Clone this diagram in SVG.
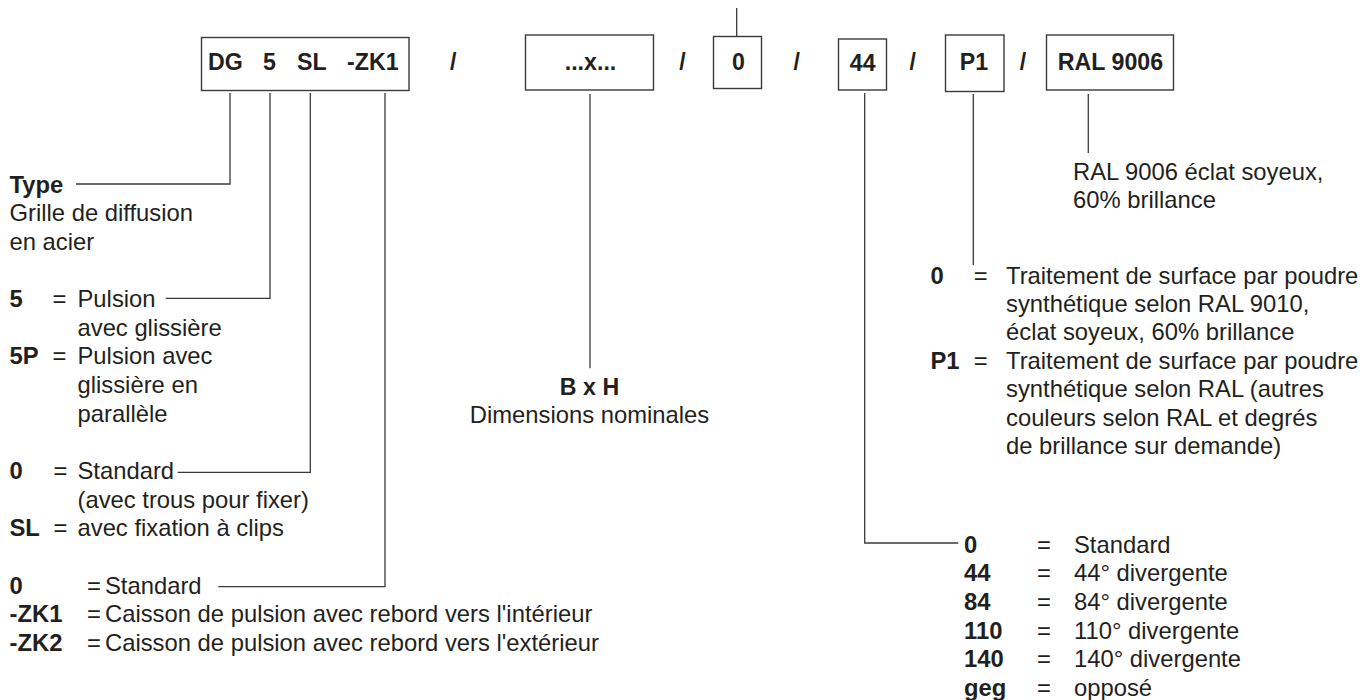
<svg xmlns="http://www.w3.org/2000/svg" width="1363" height="700" viewBox="0 0 1363 700">
<style>
text{font-family:"Liberation Sans",Arial,Helvetica,sans-serif;fill:#231f20;font-size:23.8px}
.b{font-weight:bold}
.bx{font-weight:bold;font-size:23.2px}
.m{text-anchor:middle}
rect{fill:#fff;stroke:#3a3a3a;stroke-width:1.4}
#connectors path{fill:none;stroke:#3a3a3a;stroke-width:1.3}
</style>
<rect x="0" y="0" width="1363" height="700" style="fill:#fff;stroke:none"/>

<g id="connectors">
<path d="M736.7 8 V36.5"/>
<path d="M230 93 V184 H76"/>
<path d="M270 93 V298.3 H165.7"/>
<path d="M310.3 93 V472.3 H177.7"/>
<path d="M385 93 V586.7 H218.3"/>
<path d="M590 94 V368.3"/>
<path d="M864.7 93 V543 H958.3"/>
<path d="M973.3 94 V265"/>
<path d="M1088.3 94 V153"/>
</g>

<g id="code">
<rect x="201.5" y="37.5" width="207.5" height="53"/>
<text class="bx" x="208" y="70">DG</text>
<text class="bx" x="263" y="70">5</text>
<text class="bx" x="297" y="70">SL</text>
<text class="bx" x="347" y="70">-ZK1</text>
</g>

<g id="separators">
<text class="bx m" x="453.3" y="70">/</text>
<text class="bx m" x="682.5" y="70">/</text>
<text class="bx m" x="796.7" y="70">/</text>
<text class="bx m" x="912.7" y="70">/</text>
<text class="bx m" x="1023" y="70">/</text>
</g>

<g id="dimensions">
<rect x="525.5" y="35" width="128" height="55"/>
<text class="bx m" x="590.5" y="70">...x...</text>
</g>

<g id="box-0">
<rect x="713.5" y="36.5" width="48" height="52"/>
<text class="bx m" x="738.5" y="70">0</text>
</g>

<g id="box-44">
<rect x="838.5" y="39" width="48" height="51"/>
<text class="bx m" x="862.7" y="71">44</text>
</g>

<g id="box-p1">
<rect x="945.5" y="35" width="58.5" height="56.5"/>
<text class="bx m" x="974" y="70">P1</text>
</g>

<g id="box-ral">
<rect x="1046.5" y="35" width="127" height="55"/>
<text class="bx m" x="1110.5" y="70">RAL 9006</text>
</g>

<g id="desc-type">
<text class="b" x="9.5" y="192.5">Type</text>
<text x="9.5" y="221.1">Grille de diffusion</text>
<text x="9.5" y="249.8">en acier</text>
</g>

<g id="desc-5">
<text class="b" x="9.5" y="307.1">5</text>
<text x="52.5" y="307.1">=</text>
<text x="77.5" y="307.1">Pulsion</text>
<text x="77.5" y="335.7">avec glissière</text>
<text class="b" x="9.5" y="364.3">5P</text>
<text x="52.5" y="364.3">=</text>
<text x="77.5" y="364.3">Pulsion avec</text>
<text x="77.5" y="393">glissière en</text>
<text x="77.5" y="421.6">parallèle</text>
</g>

<g id="desc-sl">
<text class="b" x="9.5" y="478.9">0</text>
<text x="53.5" y="478.9">=</text>
<text x="77.5" y="478.9">Standard</text>
<text x="77.5" y="507.5">(avec trous pour fixer)</text>
<text class="b" x="9.5" y="536.2">SL</text>
<text x="53.5" y="536.2">=</text>
<text x="77.5" y="536.2">avec fixation à clips</text>
</g>

<g id="desc-zk">
<text class="b" x="9.5" y="593.5">0</text>
<text x="87" y="593.5">=</text>
<text x="105" y="593.5">Standard</text>
<text class="b" x="9.5" y="622.1">-ZK1</text>
<text x="87" y="622.1">=</text>
<text x="105" y="622.1">Caisson de pulsion avec rebord vers l'intérieur</text>
<text class="b" x="9.5" y="650.7">-ZK2</text>
<text x="87" y="650.7">=</text>
<text x="105" y="650.7">Caisson de pulsion avec rebord vers l'extérieur</text>
</g>

<g id="desc-dimensions">
<text class="bx m" x="589.5" y="394.8">B x H</text>
<text class="m" x="589.5" y="423.4">Dimensions nominales</text>
</g>

<g id="desc-ral">
<text x="1073" y="179.5">RAL 9006 éclat soyeux,</text>
<text x="1073" y="208">60% brillance</text>
</g>

<g id="desc-p1">
<text class="b" x="930.5" y="283.5">0</text>
<text x="973.8" y="283.5">=</text>
<text x="1006" y="283.5">Traitement de surface par poudre</text>
<text x="1006" y="311.9">synthétique selon RAL 9010,</text>
<text x="1006" y="340.3">éclat soyeux, 60% brillance</text>
<text class="b" x="930.5" y="368.7">P1</text>
<text x="973.8" y="368.7">=</text>
<text x="1006" y="368.7">Traitement de surface par poudre</text>
<text x="1006" y="397.1">synthétique selon RAL (autres</text>
<text x="1006" y="425.5">couleurs selon RAL et degrés</text>
<text x="1006" y="453.9">de brillance sur demande)</text>
</g>

<g id="desc-44">
<text class="b" x="964" y="552.7">0</text>
<text x="1037" y="552.7">=</text>
<text x="1074" y="552.7">Standard</text>
<text class="b" x="964" y="581.4">44</text>
<text x="1037" y="581.4">=</text>
<text x="1074" y="581.4">44° divergente</text>
<text class="b" x="964" y="610">84</text>
<text x="1037" y="610">=</text>
<text x="1074" y="610">84° divergente</text>
<text class="b" x="964" y="638.7">110</text>
<text x="1037" y="638.7">=</text>
<text x="1074" y="638.7">110° divergente</text>
<text class="b" x="964" y="667.3">140</text>
<text x="1037" y="667.3">=</text>
<text x="1074" y="667.3">140° divergente</text>
<text class="b" x="964" y="696">geg</text>
<text x="1037" y="696">=</text>
<text x="1074" y="696">opposé</text>
</g>
</svg>
